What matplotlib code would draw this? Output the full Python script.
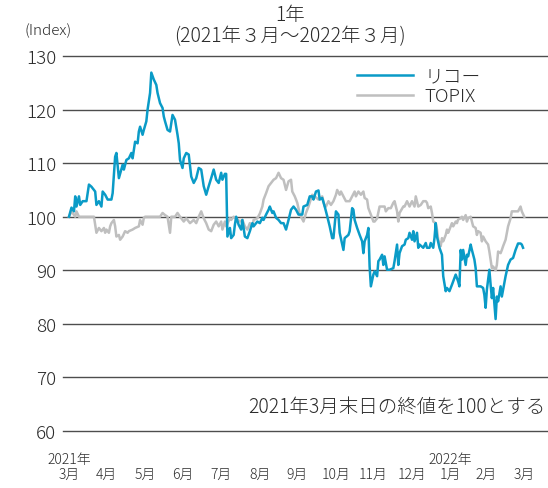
import pandas as pd
import matplotlib
matplotlib.use("Agg")
import matplotlib.pyplot as plt

plt.rcParams["font.family"] = ["Noto Sans CJK JP", "DejaVu Sans"]
plt.rcParams["font.weight"] = "light"

# days since 2021-03-31 (last close = 100)
ricoh_days = [0, 2, 4, 5, 6, 8, 9, 11, 14, 16, 18, 21, 22, 24, 26, 27, 29, 31, 34, 35,
              37, 38, 40, 43, 44, 46, 48, 50, 51, 53, 55, 56, 57, 59, 60, 62, 63, 65, 66, 68,
              70, 71, 73, 75, 76, 77, 79, 81, 83, 85, 87, 88, 89, 91, 92, 94, 96, 98, 100, 102,
              104, 106, 108, 110, 112, 114, 116, 118, 120, 122, 123, 125, 126, 127, 129, 130, 132, 133, 134, 136,
              138, 139, 141, 143, 145, 147, 148, 151, 153, 155, 156, 158, 160, 161, 163, 164, 166, 168, 170, 172,
              174, 176, 178, 180, 182, 184, 186, 187, 188, 191, 193, 195, 196, 198, 200, 201, 203, 205, 207, 209,
              211, 212, 214, 216, 217, 220, 221, 224, 225, 227, 228, 229, 231, 233, 235, 236, 237, 239, 240, 241,
              242, 244, 245, 247, 248, 249, 251, 252, 253, 255, 257, 260, 261, 263, 264, 265, 267, 269, 270, 272,
              273, 275, 276, 277, 279, 280, 281, 284, 286, 287, 289, 290, 292, 293, 294, 295, 297, 299, 300, 302,
              303, 305, 307, 309, 310, 312, 313, 314, 315, 316, 318, 319, 320, 322, 323, 325, 326, 327, 330, 332,
              333, 334, 335, 337, 338, 339, 340, 342, 343, 344, 346, 347, 348, 350, 352, 354, 356, 358, 360, 362,
              363, 364]
ricoh = [100, 101.7, 101, 103.8, 101.9, 103.8, 102.2, 102.9, 102.9, 106, 105.6, 104.7, 102.2, 102.9, 101.9, 104.7, 104.1, 103.2, 103.2, 104.4,
         111.2, 111.9, 107.2, 109.7, 108.8, 110.6, 110.9, 111.9, 110.9, 114, 113.7, 115.9, 116.8, 115.3, 116.2, 117.8, 120, 123.1, 126.9, 125.6,
         124.6, 123.1, 121.2, 120.3, 118.7, 117.8, 116.2, 115.9, 119, 118.1, 115.3, 113.7, 110.6, 109.1, 110.9, 111.9, 111.6, 107.5, 106.3, 107.2,
         109.1, 108.8, 105.7, 104.1, 105.7, 107.2, 108.8, 106.9, 106.3, 108.2, 106.9, 108, 108, 96.3, 97.9, 96, 96.6, 98.5, 100, 98.5,
         97.6, 99.4, 96.3, 96, 97.3, 98.8, 98.2, 99.1, 98.8, 99.8, 99.4, 100.4, 101.3, 101.9, 100.7, 101, 99.8, 99.4, 98.8, 98.8,
         97.6, 99.4, 101.3, 101.9, 101.3, 100.4, 100.4, 100.4, 101.9, 102.2, 103.8, 103.8, 103.2, 104.7, 104.9, 103.2, 103.5, 101.9, 100.1, 98.2,
         96, 96, 101, 100.4, 97, 93.8, 96, 96.6, 97.3, 101.6, 101.3, 99.4, 97.9, 96.6, 95.4, 93.2, 95.4, 96.6, 97.9, 90.7,
         87, 89.2, 89.8, 88.9, 91.7, 92, 92.9, 91, 92.6, 90.1, 90.1, 90.4, 91.7, 94.8, 91, 93.2, 94.5, 94.8, 95.7, 96,
         97, 95.7, 97.3, 95.4, 97, 94.2, 94.8, 94.2, 95.1, 94.2, 94.2, 95.1, 94.2, 96, 98.8, 96.3, 94.2, 92.9, 88.9, 86.1,
         86.7, 86.1, 87.3, 88.6, 89.2, 87.9, 87, 93.8, 92, 93.8, 91, 92.9, 92.6, 94.8, 93.8, 92, 90.4, 87, 87, 86.7,
         85.4, 83, 86.4, 90.1, 87.3, 84.8, 86.7, 80.9, 85.1, 84.2, 87, 85.1, 86.4, 88.9, 91, 92, 92.3, 93.8, 95, 95,
         94.8, 94.2]

topix_days = [0, 2, 5, 6, 8, 20, 21, 22, 24, 26, 28, 29, 30, 32, 33, 34, 36, 37, 38, 40,
              41, 43, 45, 47, 48, 51, 53, 56, 57, 59, 60, 61, 73, 75, 77, 79, 81, 82, 85, 87,
              89, 92, 94, 97, 100, 102, 104, 106, 108, 110, 112, 114, 116, 118, 120, 122, 123, 125, 126, 129,
              130, 132, 134, 137, 139, 141, 143, 145, 147, 148, 151, 153, 155, 156, 158, 160, 162, 164, 166, 168,
              170, 172, 174, 176, 178, 179, 181, 183, 185, 188, 190, 192, 195, 197, 200, 203, 205, 206, 208, 210,
              212, 214, 215, 217, 218, 220, 222, 225, 227, 229, 230, 232, 234, 236, 237, 239, 240, 242, 244, 245,
              247, 249, 251, 253, 254, 256, 258, 260, 261, 263, 264, 265, 268, 269, 271, 273, 275, 277, 278, 280,
              282, 284, 286, 287, 288, 290, 291, 292, 294, 295, 296, 298, 299, 300, 302, 303, 304, 306, 307, 308,
              310, 311, 312, 314, 315, 316, 318, 319, 320, 322, 323, 324, 326, 327, 328, 330, 331, 332, 334, 335,
              336, 337, 338, 339, 340, 342, 343, 344, 346, 347, 348, 350, 351, 352, 354, 355, 358, 360, 362, 363,
              365]
topix = [100, 101, 100, 101, 100, 100, 98.5, 97, 97.9, 97.3, 97.9, 97, 97.6, 97, 98.2, 98.8, 99.4, 98.2, 96.3, 96.6,
         95.7, 96.3, 97.3, 97, 97.3, 97.6, 97.9, 98.2, 99.4, 98.5, 99.8, 100, 100, 100.7, 100.3, 100, 97, 100, 100, 100.7,
         100, 99.1, 99.7, 98.8, 99.4, 98.8, 100, 101, 99.7, 98.8, 97.6, 97.3, 98.5, 99.1, 98.2, 99.1, 97.6, 99.1, 98.2, 99.7,
         99.4, 100, 99.7, 99.1, 99.4, 98.2, 97.6, 98.8, 98.2, 99.4, 99.7, 100.6, 101.9, 103.2, 104.4, 105.7, 106.3, 106.9, 107.2, 108.2,
         107.2, 106.9, 105, 106.6, 106.9, 104.7, 103.8, 102.6, 100.5, 99.1, 100.7, 101.9, 104.1, 103.8, 103.2, 103.8, 101.9, 101.9, 102.9, 102.2,
         102.9, 104.1, 105, 104.1, 104.7, 103.8, 102.9, 102.9, 103.8, 104.7, 103.8, 104.7, 104.1, 104.7, 103.5, 103.2, 101.6, 100.4, 99.1, 99.1,
         99.7, 101.9, 101.9, 101.9, 101, 101.6, 101.6, 102.6, 102.9, 101, 99.1, 100.7, 101.9, 101.9, 102.9, 101.9, 102.9, 101.9, 103.8, 101.9,
         102.2, 102.9, 102.9, 102.6, 101.6, 101.9, 100.7, 99.1, 98.8, 97.6, 95.7, 94.5, 96, 95.4, 96.6, 97.6, 97, 98.2, 98.8, 98.2,
         99.1, 98.8, 99.5, 99.7, 100, 99.4, 100.3, 99.1, 99.7, 100, 99.1, 98.2, 97.9, 96.6, 97.3, 97, 95.4, 96.3, 95.4, 95.1,
         94.8, 93.5, 92, 90.4, 90.7, 90, 91, 93.5, 93.2, 93.8, 94.5, 95.7, 97, 98.2, 99.7, 101, 101, 101, 101.9, 101,
         100]

y_ticks = [60, 70, 80, 90, 100, 110, 120, 130]
month_labels = ["3月", "4月", "5月", "6月", "7月", "8月", "9月", "10月", "11月", "12月", "1月", "2月", "3月"]

base = pd.Timestamp("2021-03-31")
ricoh_dates = base + pd.to_timedelta(ricoh_days, unit="D")
topix_dates = base + pd.to_timedelta(topix_days, unit="D")
month_ends = pd.date_range("2021-03-31", "2022-03-31", freq="ME")

text_color = "#2b2b2b"
blue = "#0a9bc7"
gray = "#bfbfbf"

fig = plt.figure(figsize=(5.48, 4.89), dpi=100)
ax = fig.add_axes([63 / 548, 1 - 432 / 489, 485 / 548, 375 / 489])

# horizontal rules, not clipped so the 60 / 130 lines keep full width
for y in y_ticks:
    ax.axhline(y, color="#4d4d4d", lw=1.0, zorder=1, clip_on=False)

ax.plot(topix_dates, topix, color=gray, lw=1.8, zorder=2, label="TOPIX")
ax.plot(ricoh_dates, ricoh, color=blue, lw=1.8, zorder=3, label="リコー")

ax.set_ylim(60, 130)
ax.set_xlim(base - pd.Timedelta(days=4.8), base + pd.Timedelta(days=384))
for s in ax.spines.values():
    s.set_visible(False)
ax.set_yticks(y_ticks)
ax.tick_params(axis="y", length=0, pad=5, labelsize=13.5, labelcolor=text_color)
ax.set_xticks(month_ends)
ax.set_xticklabels(month_labels)
ax.tick_params(axis="x", length=0, pad=26, labelsize=10, labelcolor=text_color)

ax.text(-0.03, 1.05, "(Index)", transform=ax.transAxes, ha="center", va="bottom",
        fontsize=11, color=text_color)
fig.text(290 / 548, 1 - 15 / 489, "1年", ha="center", va="center", fontsize=14, color=text_color)
fig.text(290 / 548, 1 - 37 / 489, "(2021年３月～2022年３月)", ha="center", va="center",
         fontsize=14, color=text_color)

ax.text(month_ends[0], 54.8, "2021年", ha="center", va="center", fontsize=10, color=text_color)
ax.text(month_ends[10], 54.8, "2022年", ha="center", va="center", fontsize=10, color=text_color)

ax.text(0.995, 62.6, "2021年3月末日の終値を100とする", transform=ax.get_yaxis_transform(),
        ha="right", va="bottom", fontsize=14, color=text_color)

handles, labels = ax.get_legend_handles_labels()
ax.legend(handles[::-1], labels[::-1], loc="upper left", bbox_to_anchor=(0.59, 0.99),
          frameon=False, fontsize=13.5, handlelength=3.0, handletextpad=0.6,
          labelspacing=0.1, borderaxespad=0, labelcolor=text_color)

fig.savefig("out.png", dpi=100)
